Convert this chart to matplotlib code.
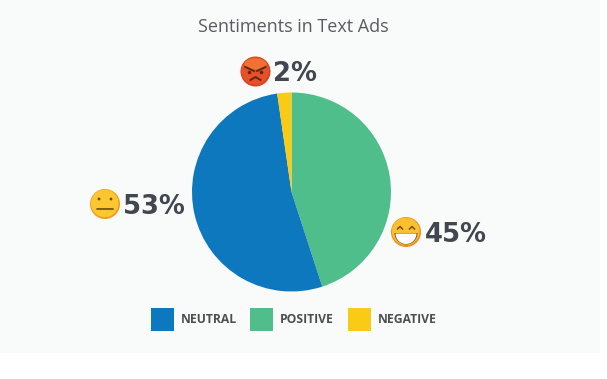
import numpy as np
import matplotlib
matplotlib.use('Agg')
import matplotlib.pyplot as plt
from matplotlib.patches import Circle, Rectangle, Wedge, Ellipse

labels = ['POSITIVE', 'NEUTRAL', 'NEGATIVE']
values = [45, 52.7, 2.3]
colors = ['#4FBE8A', '#0E78BE', '#F9CB14']
legend_order = [1, 0, 2]
title = 'Sentiments in Text Ads'

W, H = 607, 379
fig = plt.figure(figsize=(W / 100, H / 100), dpi=100, facecolor='white')

# page background, everything else in pixel coords
bg = fig.add_axes([0, 0, 1, 1])
bg.set_xlim(0, W)
bg.set_ylim(H, 0)
bg.axis('off')
bg.add_patch(Rectangle((0, 0), 600, 353, color='#F9FBFA', lw=0))

cx, cy, r = 291.5, 192, 99.5
pie_ax = fig.add_axes([(cx - r) / W, 1 - (cy + r) / H, 2 * r / W, 2 * r / H])
pie_ax.pie(values, colors=colors, startangle=90, counterclock=False, radius=1,
           wedgeprops={'linewidth': 0})
pie_ax.set_xlim(-1, 1)
pie_ax.set_ylim(-1, 1)

bg.text(293, 26.5, title, ha='center', va='center', fontsize=13,
        family='Open Sans', color='#595C60')

txt = '#42464F'
for x, y, s in [(273, 81, '2%'), (123, 214, '53%'), (425, 242, '45%')]:
    bg.text(x, y, s, ha='left', va='baseline', fontsize=18.6, weight='bold',
            family='DejaVu Sans', color=txt)


def face(x, y, c1, c2):
    bg.add_patch(Circle((x, y), 15, color=c2, lw=0))
    bg.add_patch(Circle((x - 0.3, y - 0.6), 13.8, color=c1, lw=0))


# neutral
face(105, 204, '#FBC62F', '#F39A1B')
bg.add_patch(Circle((99, 199), 1.4, color='#6B4A1A', lw=0))
bg.add_patch(Circle((111, 199), 1.4, color='#6B4A1A', lw=0))
bg.plot([97, 113], [208.5, 208.5], color='#6B4A1A', lw=1.2, solid_capstyle='round')

# positive
face(406, 232, '#FBC02D', '#EE8F1E')
bg.add_patch(Wedge((406, 233), 11.5, 0, 180, color='#7A4A1A', lw=0))
bg.add_patch(Wedge((406, 233.5), 10.5, 0, 180, color='#FFFFFF', lw=0))
for ex in (400, 412):
    bg.plot(ex + np.array([-2.5, 0, 2.5]), [229, 226.5, 229], color='#7A4A1A', lw=1.1)

# negative
face(255.5, 71.5, '#E8502A', '#D8431F')
bg.add_patch(Ellipse((255.5, 64), 22, 11, color='#F58A3A', lw=0, alpha=0.6))
for ex, s in ((249.5, -1), (261.5, 1)):
    bg.add_patch(Circle((ex, 72.5), 1.8, color='#5A2A12', lw=0))
    bg.plot([255.5 + s * 1.5, 255.5 + s * 10], [71, 67], color='#5A2A12', lw=1.4)
bg.plot([250.5, 255.5, 260.5], [80, 77, 80], color='#5A2A12', lw=1.4)

# legend
legend_x = [151, 250, 348]
for x, i in zip(legend_x, legend_order):
    bg.add_patch(Rectangle((x, 308), 23, 23, color=colors[i], lw=0))
    bg.text(x + 30, 319.5, labels[i], ha='left', va='center', fontsize=8.7,
            weight='bold', family='Open Sans', color='#4C4E50')

fig.savefig('out.png', dpi=100, facecolor='white')
